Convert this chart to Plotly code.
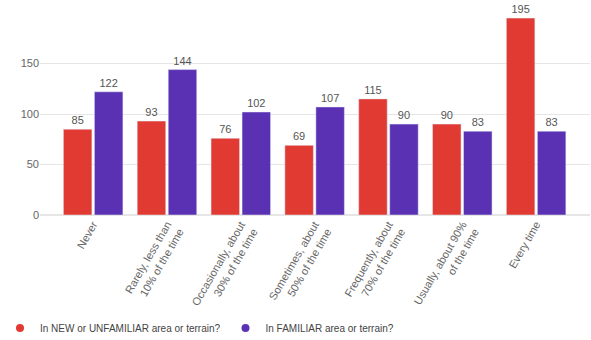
import plotly.graph_objects as go

categories = ["Never", "Rarely, less than<br>10% of the time", "Occasionally, about<br>30% of the time",
              "Sometimes, about<br>50% of the time", "Frequently, about<br>70% of the time",
              "Usually, about 90%<br>of the time", "Every time"]
unfamiliar = [85, 93, 76, 69, 115, 90, 195]
familiar = [122, 144, 102, 107, 90, 83, 83]
series_names = ["In NEW or UNFAMILIAR area or terrain?", "In FAMILIAR area or terrain?"]
colors = ["#e03a32", "#5b31b3"]

fig = go.Figure()
for vals, name, col in zip([unfamiliar, familiar], series_names, colors):
    fig.add_trace(go.Bar(x=categories, y=vals, name=name, marker_color=col,
                         text=vals, textposition="outside", cliponaxis=False,
                         textfont=dict(size=11, color="#555"), showlegend=False))
for name, col in zip(series_names, colors):
    fig.add_trace(go.Scatter(x=[None], y=[None], mode="markers", name=name,
                             marker=dict(color=col, size=8, symbol="circle")))

fig.update_layout(
    width=591, height=340,
    margin=dict(l=40, r=1, t=8, b=125, autoexpand=False),
    plot_bgcolor="white", paper_bgcolor="white",
    font=dict(family="Liberation Sans, Arial, sans-serif", size=11, color="#555"),
    barmode="group", bargap=0.16, bargroupgap=0.08,
    showlegend=True,
    legend=dict(orientation="h", x=-0.01, xanchor="left", y=0.035, yanchor="middle",
                xref="container", yref="container",
                font=dict(size=10, color="#444"), itemwidth=30, tracegroupgap=0),
)
fig.update_xaxes(range=[-0.72, 6.73], tickangle=-60, showgrid=False, showline=False,
                 tickfont=dict(size=11, color="#666"), ticks="")
fig.update_yaxes(range=[0, 205], tickvals=[0, 50, 100, 150], showgrid=True, gridcolor="#e6e6e6",
                 zeroline=True, zerolinecolor="#e6e6e6", ticks="", tickfont=dict(size=11, color="#666"))

fig.write_html("out.html")
